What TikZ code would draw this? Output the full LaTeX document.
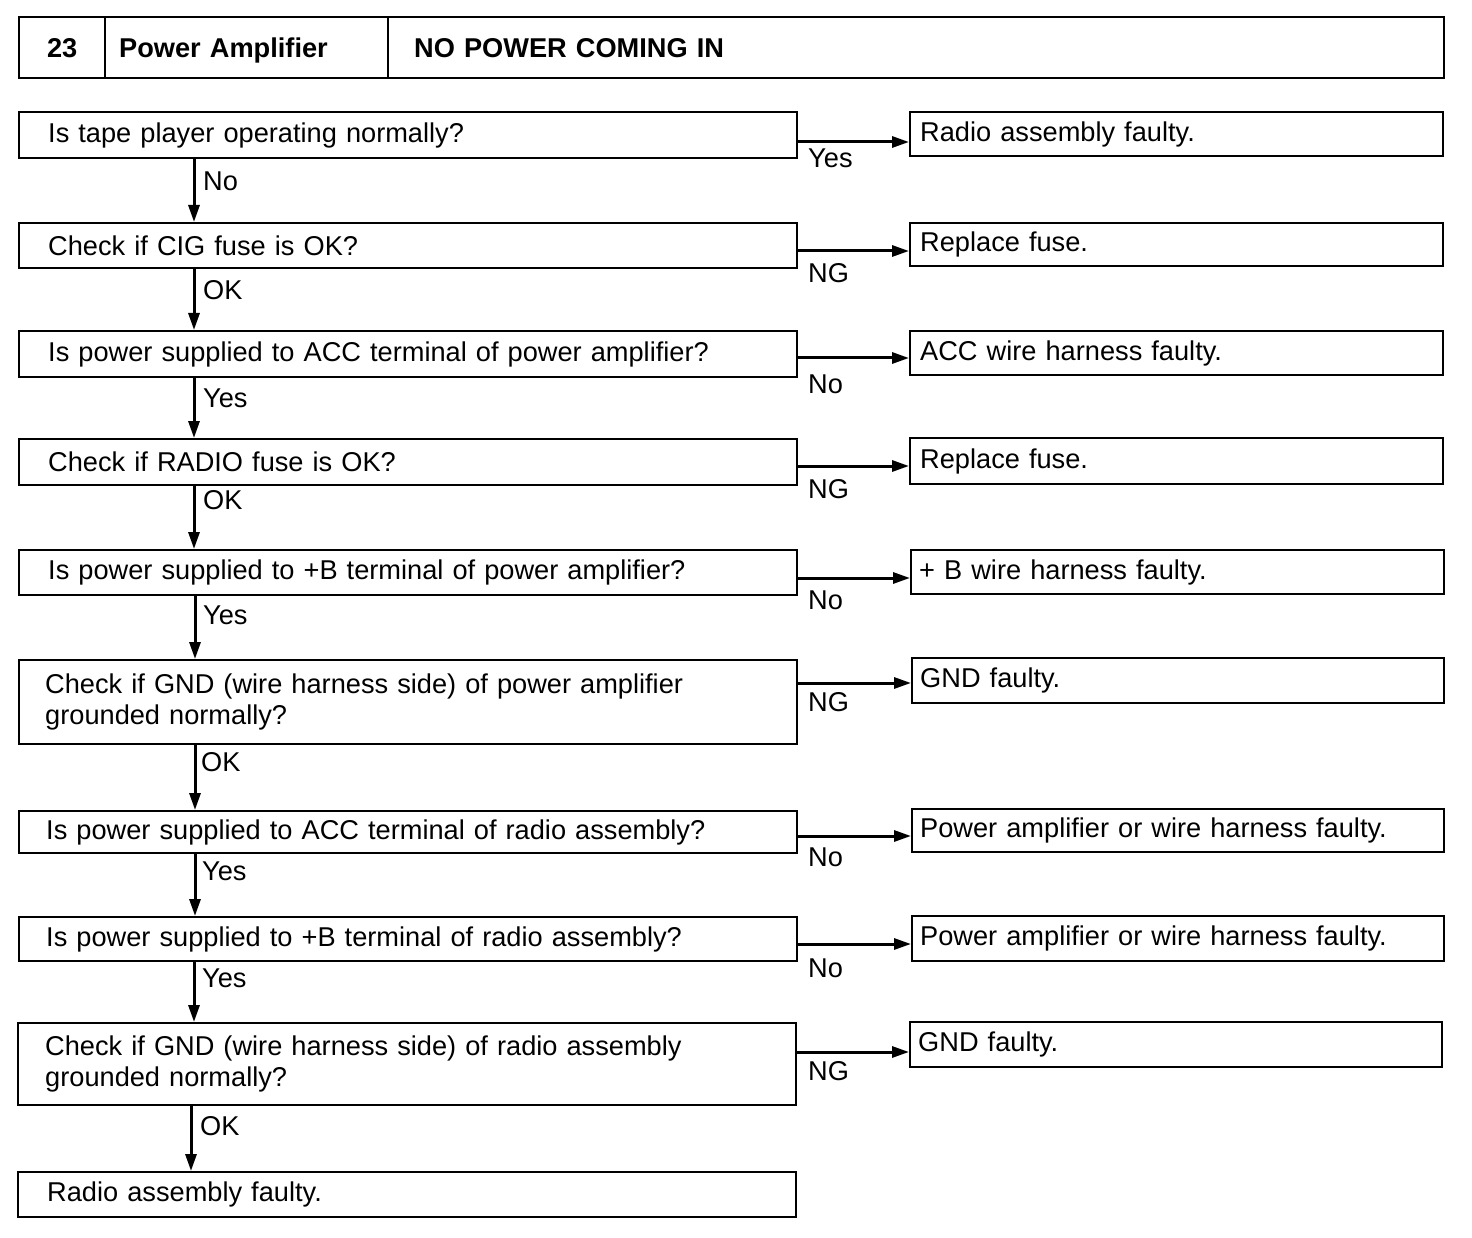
\documentclass[tikz,border=0pt]{standalone}
\usepackage{fontspec}
\setmainfont{Liberation Sans}
\usetikzlibrary{arrows.meta}
\begin{document}
\begin{tikzpicture}[x=1pt,y=-1pt,
  every node/.style={font=\fontsize{27.2pt}{31pt}\selectfont, inner sep=0pt},
  box/.style={draw, line width=2.4pt, anchor=north west, align=left},
  lbox/.style={box, inner xsep=29pt, text width=720pt},
  rbox/.style={box, inner xsep=10pt, text width=513pt},
  hbox/.style={draw, line width=2.4pt, anchor=north west, minimum height=61pt, text height=19.5pt, text depth=0pt, font=\fontsize{27.2pt}{31pt}\selectfont\bfseries},
  arr/.style={line width=3pt, -{Triangle[length=17pt,width=11pt]}},
  lbl/.style={anchor=west}]
\useasboundingbox (0,0) rectangle (1472,1238);

% header
\node[hbox, minimum width=86pt, align=center] (h1) at (18,16) {23};
\node[hbox, minimum width=283pt, inner xsep=14pt, text width=255pt, align=left] (h2) at (104,16) {Power Amplifier};
\node[hbox, minimum width=1056pt, inner xsep=26pt, text width=1004pt, align=left] (h3) at (387,16) {NO POWER COMING IN};

% left column
\node[lbox, minimum height=46pt] (b1) at (18,111) {Is tape player operating normally?};
\node[lbox, minimum height=45pt] (b2) at (18,222) {Check if CIG fuse is OK?};
\node[lbox, minimum height=46pt] (b3) at (18,330) {Is power supplied to ACC terminal of power amplifier?};
\node[lbox, minimum height=46pt] (b4) at (18,438) {Check if RADIO fuse is OK?};
\node[lbox, minimum height=45pt] (b5) at (18,549) {Is power supplied to +B terminal of power amplifier?};
\node[lbox, minimum height=84pt, inner xsep=26pt, text width=726pt] (b6) at (18,659) {Check if GND (wire harness side) of power amplifier\\grounded normally?};
\node[lbox, minimum height=42pt, inner xsep=27pt, text width=724pt] (b7) at (18,810) {Is power supplied to ACC terminal of radio assembly?};
\node[lbox, minimum height=44pt, inner xsep=27pt, text width=724pt] (b8) at (18,916) {Is power supplied to +B terminal of radio assembly?};
\node[lbox, minimum height=82pt, inner xsep=27pt, text width=724pt] (b9) at (17,1022) {Check if GND (wire harness side) of radio assembly\\grounded normally?};
\node[lbox, minimum height=45pt] (b10) at (17,1171) {Radio assembly faulty.};

% right column
\node[rbox, minimum height=44pt] (r1) at (909,111) {Radio assembly faulty.};
\node[rbox, minimum height=43pt] (r2) at (909,222) {Replace fuse.};
\node[rbox, minimum height=44pt] (r3) at (909,330) {ACC wire harness faulty.};
\node[rbox, minimum height=46pt] (r4) at (909,437) {Replace fuse.};
\node[rbox, minimum height=44pt, inner xsep=8pt, text width=517pt] (r5) at (910,549) {+ B wire harness faulty.};
\node[rbox, minimum height=45pt, inner xsep=8pt, text width=516pt] (r6) at (911,657) {GND faulty.};
\node[rbox, minimum height=43pt, inner xsep=8pt, text width=516pt] (r7) at (911,808) {Power amplifier or wire harness faulty.};
\node[rbox, minimum height=45pt, inner xsep=8pt, text width=516pt] (r8) at (911,915) {Power amplifier or wire harness faulty.};
\node[rbox, minimum height=45pt, inner xsep=8pt, text width=516pt] (r9) at (909,1021) {GND faulty.};

% horizontal arrows
\draw[arr] (b1.east |- 0,142) -- (r1.west |- 0,142);
\draw[arr] (b2.east |- 0,251) -- (r2.west |- 0,251);
\draw[arr] (b3.east |- 0,358) -- (r3.west |- 0,358);
\draw[arr] (b4.east |- 0,466) -- (r4.west |- 0,466);
\draw[arr] (b5.east |- 0,578) -- (r5.west |- 0,578);
\draw[arr] (b6.east |- 0,683) -- (r6.west |- 0,683);
\draw[arr] (b7.east |- 0,836) -- (r7.west |- 0,836);
\draw[arr] (b8.east |- 0,944) -- (r8.west |- 0,944);
\draw[arr] (b9.east |- 0,1052) -- (r9.west |- 0,1052);

\node[lbl] (hl1) at (808,158) {Yes};
\node[lbl] (hl2) at (808,273) {NG};
\node[lbl] (hl3) at (808,384) {No};
\node[lbl] (hl4) at (808,489) {NG};
\node[lbl] (hl5) at (808,600) {No};
\node[lbl] (hl6) at (808,702) {NG};
\node[lbl] (hl7) at (808,857) {No};
\node[lbl] (hl8) at (808,968) {No};
\node[lbl] (hl9) at (808,1071) {NG};

% vertical arrows
\draw[arr] (b1.south -| 194,0) -- (b2.north -| 194,0);
\draw[arr] (b2.south -| 194,0) -- (b3.north -| 194,0);
\draw[arr] (b3.south -| 194,0) -- (b4.north -| 194,0);
\draw[arr] (b4.south -| 194,0) -- (b5.north -| 194,0);
\draw[arr] (b5.south -| 195,0) -- (b6.north -| 195,0);
\draw[arr] (b6.south -| 195,0) -- (b7.north -| 195,0);
\draw[arr] (b7.south -| 195,0) -- (b8.north -| 195,0);
\draw[arr] (b8.south -| 194,0) -- (b9.north -| 194,0);
\draw[arr] (b9.south -| 191,0) -- (b10.north -| 191,0);

\node[lbl] (vl1) at (203,181) {No};
\node[lbl] (vl2) at (203,290) {OK};
\node[lbl] (vl3) at (203,398) {Yes};
\node[lbl] (vl4) at (203,500) {OK};
\node[lbl] (vl5) at (203,615) {Yes};
\node[lbl] (vl6) at (201,762) {OK};
\node[lbl] (vl7) at (202,871) {Yes};
\node[lbl] (vl8) at (202,978) {Yes};
\node[lbl] (vl9) at (200,1126) {OK};
\end{tikzpicture}
\end{document}
